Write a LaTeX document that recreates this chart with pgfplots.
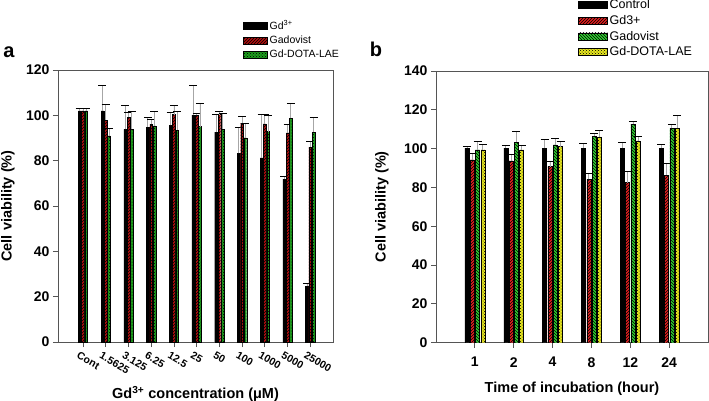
\documentclass[border=0pt]{standalone}
\usepackage{fontspec}
\setmainfont{Liberation Sans}
\usepackage{pgfplots}
\pgfplotsset{compat=1.18}
\usetikzlibrary{patterns}
\definecolor{ared}{HTML}{B01010}
\definecolor{agreen}{HTML}{1E9E1E}
\definecolor{bred}{HTML}{E02020}
\definecolor{bgreen}{HTML}{30D030}
\definecolor{byellow}{HTML}{E6E620}
\definecolor{axgray}{HTML}{555555}
\begin{document}
\begin{tikzpicture}
\path[use as bounding box] (0pt,0pt) rectangle (709pt,400pt);
\pgfplotsset{
  common/.style={
    scale only axis,
    axis line style={axgray, line width=0.8pt},
    ymin=0,
    tick align=outside,
    xtick pos=bottom, ytick pos=left,
    major tick length=5pt,
    tick style={axgray, line width=0.8pt},
    /pgf/number format/assume math mode=true,
    ticklabel style={font=\fontsize{14}{16}\selectfont\bfseries},
    label style={font=\fontsize{14.5}{17}\selectfont\bfseries},
    error bars/y dir=plus, error bars/y explicit,
    error bars/error bar style={gray!70, line width=0.8pt},
    error bars/error mark options={rotate=90, black, mark size=4pt, line width=0.8pt},
    legend cell align=left,
    every axis plot/.append style={draw=black, line width=0.4pt},
  }
}
% Panel a
\begin{axis}[common,
  at={(58pt,58pt)}, anchor=south west,
  width=275pt, height=272pt,
  xmin=-1.1, xmax=11, ymax=120, ytick={0,20,...,120},
  xtick={0,...,10},
  xticklabels={Cont,1.5625,3.125,6.25,12.5,25,50,100,1000,5000,25000},
  xticklabel style={rotate=-30, anchor=north west, font=\fontsize{10.5}{12}\selectfont\bfseries, xshift=-4pt, yshift=-2pt},
  ybar=0.6pt, bar width=2.7pt,
  legend image code/.code={\draw[#1,draw=black,line width=0.4pt] (0pt,-3.5pt) rectangle (24pt,3.5pt);},
  xlabel={Gd\textsuperscript{3+} concentration (μM)},
  xlabel style={at={(axis description cs:0.5,-0.19)}, anchor=center},
  ylabel={Cell viability (\%)},
  ylabel style={at={(axis description cs:-0.182,0.5)}, anchor=center},
  legend style={at={(0.673,1.19)}, anchor=north west, draw=none, fill=none, inner sep=0pt, row sep=1pt, font=\fontsize{10.5}{12}\selectfont},
]
\addplot[fill=black] coordinates {
(0,102) +- (0,1) (1,102) +- (0,11) (2,93.8) +- (0,10.7) (3,94.8) +- (0,4.2) (4,95.6) +- (0,5.9) (5,100.1) +- (0,13.1) (6,92.6) +- (0,7.7) (7,83.2) +- (0,11.5) (8,81.2) +- (0,19.4) (9,71.9) +- (0,1.3) (10,24.7) +- (0,1.0)};
\addplot[fill=ared, postaction={pattern=north east lines, pattern color=black}] coordinates {
(0,102) +- (0,1) (1,97.9) +- (0,6.9) (2,99.2) +- (0,2.3) (3,96.0) +- (0,2.2) (4,100.3) +- (0,4.0) (5,100.0) +- (0,1.0) (6,100.3) +- (0,1.6) (7,96.6) +- (0,2.8) (8,96.2) +- (0,4.0) (9,92.3) +- (0,3.7) (10,86.0) +- (0,2.4)};
\addplot[fill=agreen, postaction={pattern=crosshatch dots, pattern color=black}] coordinates {
(0,102) +- (0,1) (1,90.9) +- (0,3.2) (2,93.8) +- (0,7.8) (3,95.4) +- (0,6.2) (4,93.5) +- (0,8.3) (5,95.0) +- (0,10.3) (6,93.9) +- (0,6.8) (7,90.1) +- (0,6.2) (8,92.8) +- (0,7.2) (9,98.7) +- (0,6.4) (10,92.6) +- (0,6.5)};
\legend{Gd\textsuperscript{3+},Gadovist,Gd-DOTA-LAE}
\end{axis}
% Panel b
\begin{axis}[common,
  at={(436pt,57.3pt)}, anchor=south west,
  width=272pt, height=271.7pt,
  xmin=0, xmax=7, ymax=140, ytick={0,20,...,140},
  xtick={1,...,6},
  xticklabels={1,2,4,8,12,24},
  xticklabel style={yshift=-6pt},
  ybar=1.3pt, bar width=4pt,
  xlabel={Time of incubation (hour)},
  xlabel style={at={(axis description cs:0.5,-0.17)}, anchor=center},
  ylabel={Cell viability (\%)},
  ylabel style={at={(axis description cs:-0.199,0.5)}, anchor=center},
  legend style={at={(0.522,1.27)}, anchor=north west, draw=none, fill=none, inner sep=0pt, row sep=1pt, font=\fontsize{12.5}{14}\selectfont},
  legend image code/.code={\draw[#1,draw=black,line width=0.4pt] (0pt,-3.5pt) rectangle (29pt,3.5pt);},
]
\addplot[fill=black] coordinates {
(1,100.2) +- (0,1.2) (2,100.2) +- (0,1.5) (3,100.2) +- (0,4.6) (4,100.2) +- (0,2.4) (5,100.2) +- (0,2.9) (6,100.2) +- (0,2.1)};
\addplot[fill=bred, postaction={pattern=north east lines, pattern color=black}] coordinates {
(1,94.2) +- (0,3.1) (2,93.7) +- (0,3.4) (3,90.7) +- (0,2.6) (4,84.2) +- (0,3.1) (5,82.5) +- (0,6.0) (6,86.4) +- (0,6.1)};
\addplot[fill=bgreen, postaction={pattern=north west lines, pattern color=black}] coordinates {
(1,99.3) +- (0,4.5) (2,103.3) +- (0,5.5) (3,101.9) +- (0,3.6) (4,106.5) +- (0,1.4) (5,112.6) +- (0,1.3) (6,110.5) +- (0,2.1)};
\addplot[fill=byellow, postaction={pattern=crosshatch dots, pattern color=black}] coordinates {
(1,99.3) +- (0,3.1) (2,99.3) +- (0,2.6) (3,101.0) +- (0,2.6) (4,106.0) +- (0,3.5) (5,104.0) +- (0,2.5) (6,110.5) +- (0,6.4)};
\legend{Control,Gd3+,Gadovist,Gd-DOTA-LAE}
\end{axis}
\node[font=\fontsize{20}{24}\selectfont\bfseries] at (9pt,348pt) {a};
\node[font=\fontsize{20}{24}\selectfont\bfseries] at (376pt,351pt) {b};
\end{tikzpicture}
\end{document}
